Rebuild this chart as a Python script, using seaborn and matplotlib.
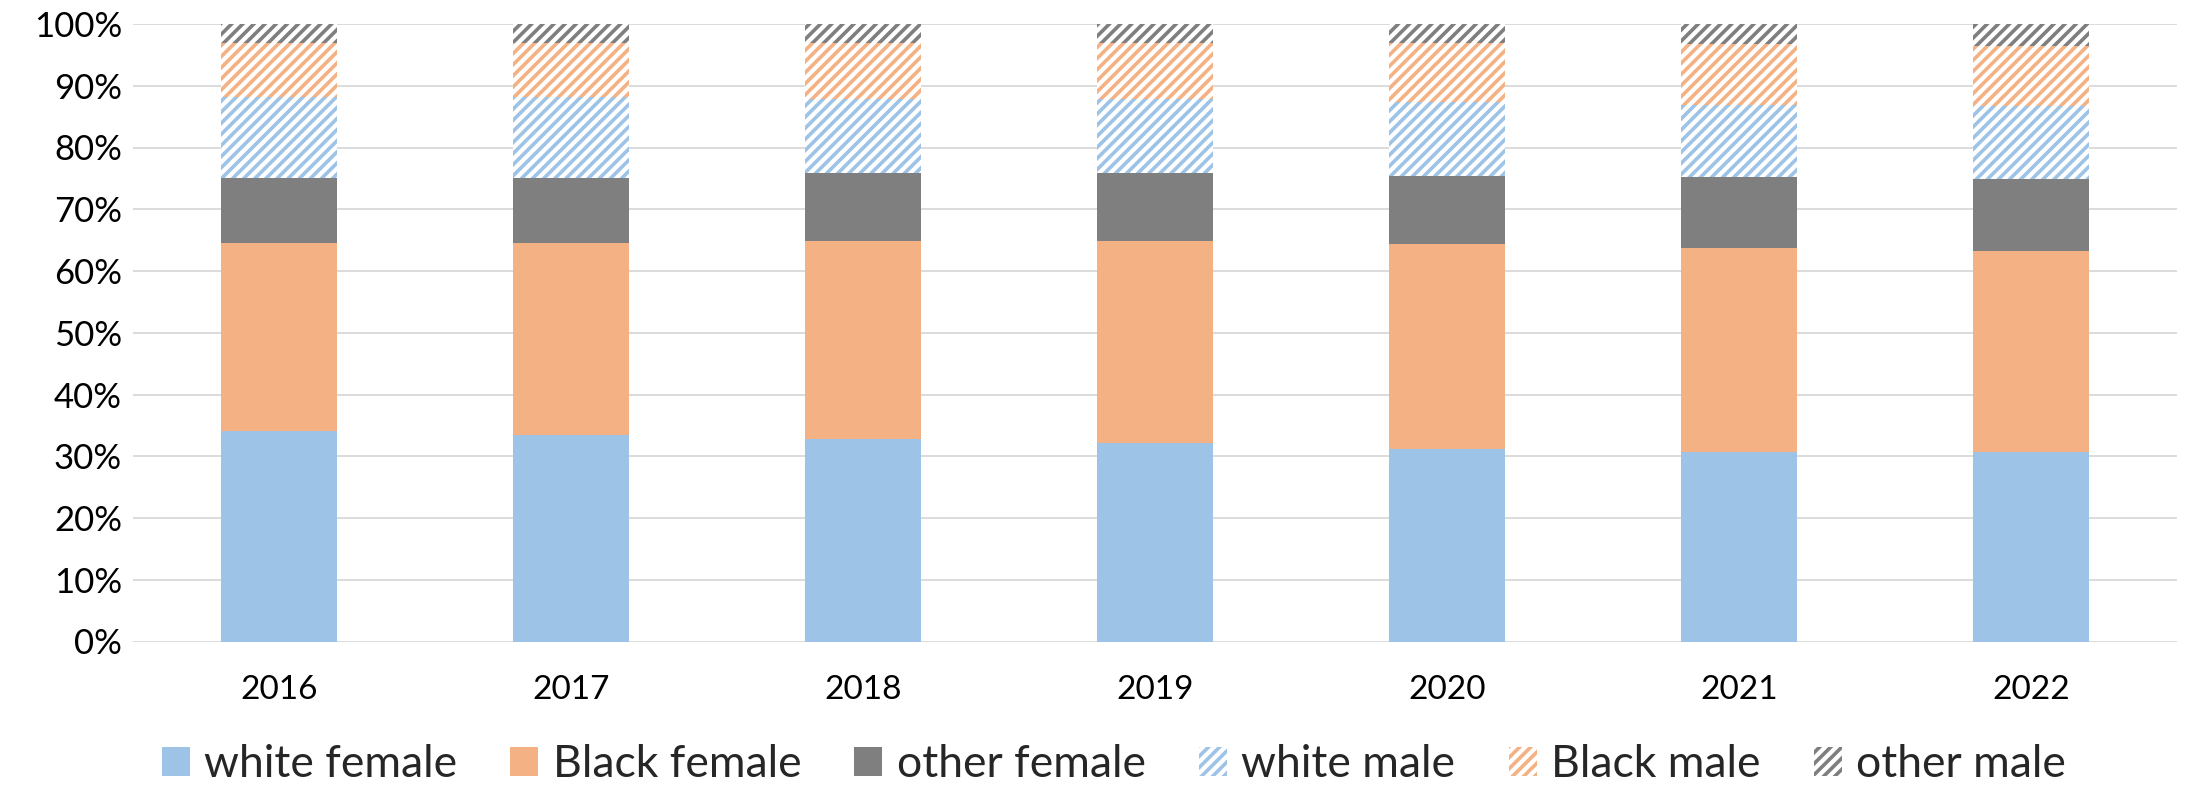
import matplotlib
matplotlib.use("Agg")
import matplotlib.pyplot as plt
from matplotlib.patches import Patch
from matplotlib.ticker import PercentFormatter, MultipleLocator
import numpy as np
import seaborn as sns

# Share of each group per year, in percent
years = ["2016", "2017", "2018", "2019", "2020", "2021", "2022"]
white_female = [34.1, 33.4, 32.8, 32.1, 31.2, 30.7, 30.7]
black_female = [30.4, 31.1, 32.1, 32.8, 33.2, 33.0, 32.5]
other_female = [10.6, 10.6, 11.0, 11.0, 11.0, 11.5, 11.7]
white_male = [13.0, 13.0, 12.0, 11.9, 11.9, 11.7, 11.8]
black_male = [8.9, 8.9, 9.1, 9.1, 9.6, 9.9, 9.8]
other_male = [3.0, 3.0, 3.0, 3.1, 3.1, 3.2, 3.5]

labels = ["white female", "Black female", "other female",
          "white male", "Black male", "other male"]
series = [white_female, black_female, other_female,
          white_male, black_male, other_male]

BLUE, ORANGE, GRAY = "#9DC3E6", "#F4B183", "#7F7F7F"
colors = [BLUE, ORANGE, GRAY, BLUE, ORANGE, GRAY]
hatched = [False, False, False, True, True, True]
HATCH = "///"

sns.set_theme(style="white")
plt.rcParams["font.family"] = ["Lato", "DejaVu Sans"]
plt.rcParams["hatch.linewidth"] = 2.6

fig = plt.figure(figsize=(21.88, 7.86), dpi=100)
ax = fig.add_axes([133 / 2188, 1 - 641.5 / 786, 2044 / 2188, 617.5 / 786])

bottom = np.zeros(len(years))
for vals, lab, col, hat in zip(series, labels, colors, hatched):
    vals = np.asarray(vals, dtype=float)
    if hat:
        sns.barplot(x=years, y=vals, bottom=bottom, color="white",
                    edgecolor=col, hatch=HATCH, linewidth=0, width=0.4,
                    saturation=1, errorbar=None, ax=ax, zorder=3)
    else:
        sns.barplot(x=years, y=vals, bottom=bottom, color=col,
                    linewidth=0, width=0.4, saturation=1,
                    errorbar=None, ax=ax, zorder=3)
    bottom += vals

ax.set_ylim(0, 100)
ax.set_xlim(-0.5, len(years) - 0.5)
ax.yaxis.set_major_locator(MultipleLocator(10))
ax.yaxis.set_major_formatter(PercentFormatter(xmax=100, decimals=0))
ax.grid(axis="y", color="#D9D9D9", linewidth=1.3, zorder=0)
ax.set_axisbelow(True)
for s in ax.spines.values():
    s.set_visible(False)
ax.set_xlabel("")
ax.set_ylabel("")
ax.tick_params(axis="y", length=0, pad=8, labelsize=25, labelcolor="#000000")
ax.tick_params(axis="x", length=0, pad=24, labelsize=24, labelcolor="#000000")

handles = []
for lab, col, hat in zip(labels, colors, hatched):
    if hat:
        handles.append(Patch(facecolor="white", edgecolor=col, hatch=HATCH,
                             linewidth=0, label=lab))
    else:
        handles.append(Patch(facecolor=col, linewidth=0, label=lab))

fig.legend(handles=handles, loc="center", bbox_to_anchor=(0.509, 0.027),
           ncol=6, frameon=False, fontsize=32, handlelength=0.63,
           handleheight=0.63, handletextpad=0.32, columnspacing=1.2)

fig.savefig("out.png", dpi=100)
